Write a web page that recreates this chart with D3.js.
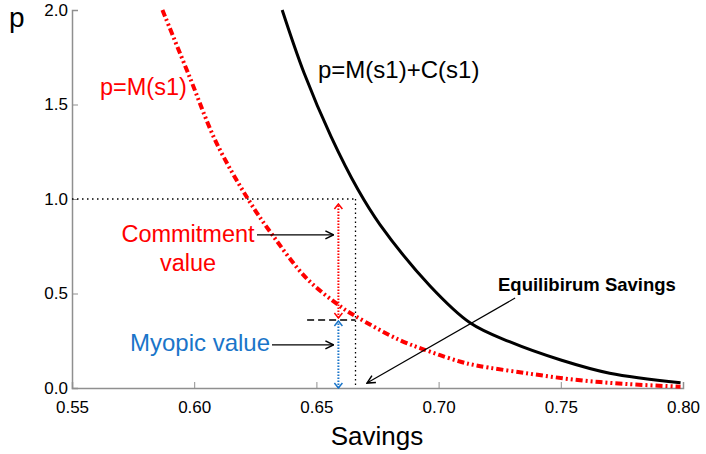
<!DOCTYPE html>
<html><head><meta charset="utf-8">
<script src="https://cdn.jsdelivr.net/npm/d3@7"></script>
<style>body{margin:0;background:#fff} svg{display:block} text{font-family:"Liberation Sans",Arial,sans-serif}</style>
</head><body><svg id="c" width="706" height="454"></svg>
<script>
// ---- data ----
const xTicks = [0.55, 0.60, 0.65, 0.70, 0.75, 0.80];
const yTicks = [0.0, 0.5, 1.0, 1.5, 2.0];
// p = M(s1)
const mS = [0.587, 0.598, 0.609, 0.622, 0.632, 0.646, 0.660, 0.666, 0.684, 0.697, 0.709, 0.716, 0.736, 0.757, 0.777, 0.799];
const mP = [2.0, 1.65, 1.30, 1.00, 0.81, 0.58, 0.43, 0.38, 0.254, 0.190, 0.139, 0.118, 0.078, 0.042, 0.021, 0.007];
// p = M(s1) + C(s1)
const mcS = [0.636, 0.645, 0.656, 0.667, 0.676, 0.6965, 0.713, 0.729, 0.750, 0.770, 0.799];
const mcP = [2.0, 1.665, 1.33, 1.05, 0.865, 0.54, 0.344, 0.245, 0.148, 0.078, 0.028];
const eqS = 0.666, eqP = 1.0;       // equilibrium savings / price
const valueS = 0.659;               // position of value arrows
const myopicP = 0.36;               // myopic value level
const dashStartS = 0.6462;

const svg = d3.select("#c");
const x = d3.scaleLinear().domain([0.55, 0.80]).range([72, 683]);
const y = d3.scaleLinear().domain([0, 2]).range([388, 10]);

// markers
const defs = svg.append("defs");
function marker(id, color, w, h) {
  defs.append("marker").attr("id", id).attr("viewBox", `-1 ${-h-1} ${w+2} ${2*h+2}`)
    .attr("refX", w).attr("refY", 0).attr("markerWidth", w+2).attr("markerHeight", 2*h+2)
    .attr("markerUnits", "userSpaceOnUse").attr("orient", "auto-start-reverse")
    .append("path").attr("d", `M0,${-h}L${w},0L0,${h}`).attr("fill", "none")
    .attr("stroke", color).attr("stroke-width", 1.5);
}
marker("ak", "#000", 8, 4);
marker("ar", "#ff0000", 5, 4);
marker("ab", "#1a75c9", 5, 4);

// axes
const axCol = "#8f8f8f";
const yMinor = d3.range(0, 2.001, 0.1);
const xMinor = d3.range(0.55, 0.8001, 0.01);
const gy = svg.append("g").attr("transform", `translate(${x(0.55)},0)`);
gy.call(d3.axisLeft(y).tickValues(yMinor).tickSize(-3).tickFormat(""));
gy.call(d3.axisLeft(y).tickValues(yTicks).tickSize(-6).tickPadding(4).tickFormat(d3.format(".1f")));
const gx = svg.append("g").attr("transform", `translate(0,${y(0)})`);
gx.call(d3.axisBottom(x).tickValues(xMinor).tickSize(-3).tickFormat(""));
gx.call(d3.axisBottom(x).tickValues(xTicks).tickSize(-6).tickPadding(13).tickFormat(d3.format(".2f")));
svg.selectAll(".domain").attr("stroke", axCol).attr("stroke-width", 1.5);
svg.selectAll(".tick line").attr("stroke", axCol);
svg.selectAll(".tick text").attr("font-size", 17).attr("fill", "#000")
  .attr("font-family", '"Liberation Sans",Arial,sans-serif');

// guide lines
svg.append("line").attr("x1", x(0.55)).attr("x2", x(eqS)).attr("y1", y(eqP)).attr("y2", y(eqP))
  .attr("stroke", "#000").attr("stroke-width", 1.3).attr("stroke-dasharray", "1.5,3.5");
svg.append("line").attr("x1", x(eqS)).attr("x2", x(eqS)).attr("y1", y(eqP)).attr("y2", y(0))
  .attr("stroke", "#000").attr("stroke-width", 1.3).attr("stroke-dasharray", "1.5,3");
svg.append("line").attr("x1", x(dashStartS)).attr("x2", x(eqS)).attr("y1", y(myopicP)).attr("y2", y(myopicP))
  .attr("stroke", "#000").attr("stroke-width", 1.5).attr("stroke-dasharray", "7,4");

// curves
const line = d3.line().x(d => x(d[0])).y(d => y(d[1])).curve(d3.curveCatmullRom.alpha(0.5));
svg.append("path").datum(mcS.map((s, i) => [s, mcP[i]])).attr("d", line)
  .attr("fill", "none").attr("stroke", "#000").attr("stroke-width", 3);
svg.append("path").datum(mS.map((s, i) => [s, mP[i]])).attr("d", line)
  .attr("fill", "none").attr("stroke", "#ff0000").attr("stroke-width", 4)
  .attr("stroke-dasharray", "7,3,2,3,2,3");

// value arrows
svg.append("line").attr("x1", x(valueS)).attr("x2", x(valueS)).attr("y1", y(myopicP) - 2).attr("y2", y(eqP) + 5)
  .attr("stroke", "#ff0000").attr("stroke-width", 2).attr("stroke-dasharray", "1.5,1.5")
  .attr("marker-start", "url(#ar)").attr("marker-end", "url(#ar)");
svg.append("line").attr("x1", x(valueS)).attr("x2", x(valueS)).attr("y1", y(0)).attr("y2", y(myopicP) + 1)
  .attr("stroke", "#1a75c9").attr("stroke-width", 2).attr("stroke-dasharray", "1.5,1.5")
  .attr("marker-start", "url(#ab)").attr("marker-end", "url(#ab)");

// annotation arrows
function arrow(x1, y1, x2, y2) {
  svg.append("line").attr("x1", x1).attr("y1", y1).attr("x2", x2).attr("y2", y2)
    .attr("stroke", "#000").attr("stroke-width", 1.2).attr("marker-end", "url(#ak)");
}
arrow(257, y(0.81), x(valueS) - 5, y(0.81));
arrow(272, y(0.228), x(valueS) - 5, y(0.228));
arrow(x(0.7313), y(0.476), x(0.6707), y(0.026));

// texts
function txt(t, tx, ty, size, color, anchor, weight) {
  svg.append("text").attr("x", tx).attr("y", ty).attr("font-size", size).attr("fill", color)
    .attr("text-anchor", anchor || "start").attr("font-weight", weight || "normal").text(t);
}
txt("p", 9, 27, 28, "#000");
txt("Savings", 377, 445, 26, "#000", "middle");
txt("p=M(s1)", 100, 95, 23.5, "#ff0000");
txt("p=M(s1)+C(s1)", 318, 78, 24, "#000");
txt("Commitment", 188, 242, 23.5, "#ff0000", "middle");
txt("value", 188, 271, 23.5, "#ff0000", "middle");
txt("Myopic value", 270, 351, 24, "#1a75c9", "end");
txt("Equilibirum Savings", 498, 291, 18.5, "#000", "start", "bold");
</script></body></html>
